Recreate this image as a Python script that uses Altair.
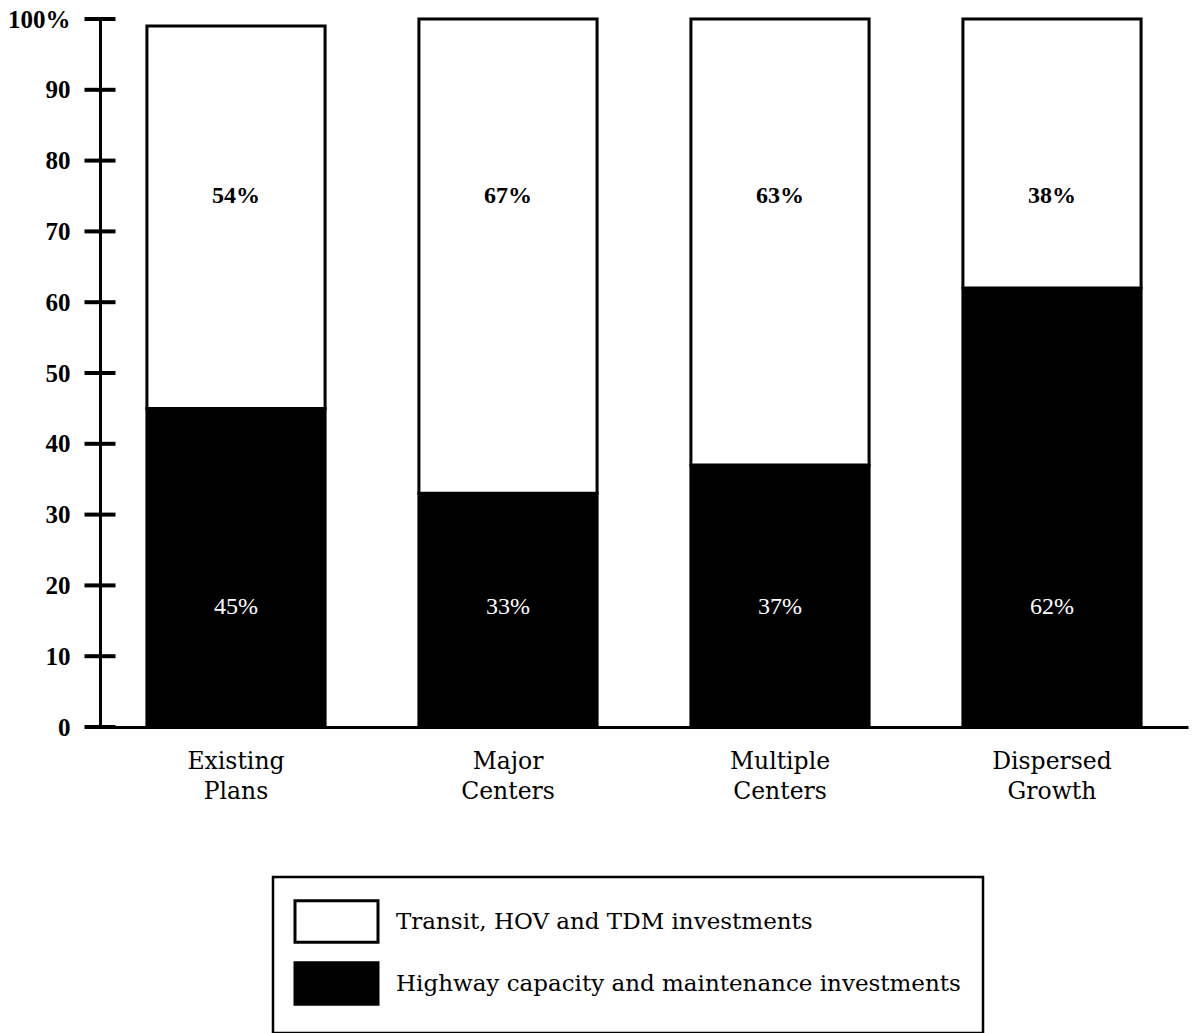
import altair as alt
import pandas as pd

# Investment split by growth scenario (percent of total)
scenarios = ["Existing Plans", "Major Centers", "Multiple Centers", "Dispersed Growth"]
highway = [45, 33, 37, 62]
transit = [54, 67, 63, 38]
series_names = [
    "Transit, HOV and TDM investments",
    "Highway capacity and maintenance investments",
]
y_ticks = [0, 10, 20, 30, 40, 50, 60, 70, 80, 90, 100]

rows = []
for s, h, t in zip(scenarios, highway, transit):
    rows.append(dict(scenario=s, series=series_names[1], start=0, end=h, label=f"{h}%"))
    rows.append(dict(scenario=s, series=series_names[0], start=h, end=h + t, label=f"{t}%"))
df = pd.DataFrame(rows)
ticks_df = pd.DataFrame({"value": y_ticks})

SERIF = "DejaVu Serif"
BOLD_SERIF = "Liberation Serif"

x_enc = alt.X(
    "scenario:N",
    sort=scenarios,
    title=None,
    scale=alt.Scale(paddingInner=0.345, paddingOuter=0.1725),
    axis=alt.Axis(
        labelAngle=0,
        labelExpr="split(datum.label, ' ')",
        labelFont=SERIF,
        labelFontSize=23.5,
        labelLineHeight=30,
        labelColor="black",
        labelBaseline="top",
        labelPadding=22,
        ticks=False,
        domainColor="black",
        domainWidth=3,
    ),
)

y_scale = alt.Scale(domain=[0, 100], nice=False)

bars = alt.Chart(df).mark_bar(stroke="black", strokeWidth=3).encode(
    x=x_enc,
    y=alt.Y(
        "start:Q",
        scale=y_scale,
        title=None,
        axis=alt.Axis(
            values=y_ticks,
            labelExpr="datum.value == 100 ? '100%' : datum.label",
            labelFont=BOLD_SERIF,
            labelFontWeight="bold",
            labelFontSize=25,
            labelColor="black",
            labelPadding=30,
            ticks=False,
            grid=False,
            domainColor="black",
            domainWidth=3,
        ),
    ),
    y2="end:Q",
    color=alt.Color(
        "series:N",
        scale=alt.Scale(domain=series_names, range=["white", "black"]),
        legend=alt.Legend(
            title=None,
            orient="none",
            legendX=173,
            legendY=858,
            # wide rectangular swatch: 4 x 2 units, scaled by sqrt(size)/2
            symbolType="M-2,-1H2V1H-2Z",
            symbolSize=1722,
            symbolOffset=19,
            symbolStrokeColor="black",
            symbolStrokeWidth=3,
            labelFont=SERIF,
            labelFontSize=23,
            labelColor="black",
            labelOffset=37,
            labelLimit=800,
            rowPadding=7,
            padding=22,
            strokeColor="black",
        ),
    ),
)

# Tick marks crossing the vertical axis line
axis_ticks = alt.Chart(ticks_df).mark_tick(
    orient="horizontal", size=31, thickness=4, color="black", opacity=1
).encode(y=alt.Y("value:Q", scale=y_scale), x=alt.value(0))

transit_labels = alt.Chart(df).transform_filter(
    alt.datum.series == series_names[0]
).mark_text(font=BOLD_SERIF, fontWeight="bold", fontSize=24, color="black").encode(
    x=alt.X("scenario:N", sort=scenarios),
    y=alt.datum(75),
    text="label:N",
)

highway_labels = alt.Chart(df).transform_filter(
    alt.datum.series == series_names[1]
).mark_text(font=BOLD_SERIF, fontSize=24, color="white").encode(
    x=alt.X("scenario:N", sort=scenarios),
    y=alt.datum(17),
    text="label:N",
)

chart = (
    alt.layer(bars, axis_ticks, transit_labels, highway_labels)
    .properties(
        width=1088,
        height=708,
        autosize=alt.AutoSizeParams(type="none"),
        padding={"left": 100, "top": 19, "right": 8, "bottom": 306},
        background="white",
    )
    .configure_view(stroke=None)
    .configure_legend(strokeWidth=2.5)
)

chart.save("out.html", embed_options={"renderer": "svg", "actions": False})
